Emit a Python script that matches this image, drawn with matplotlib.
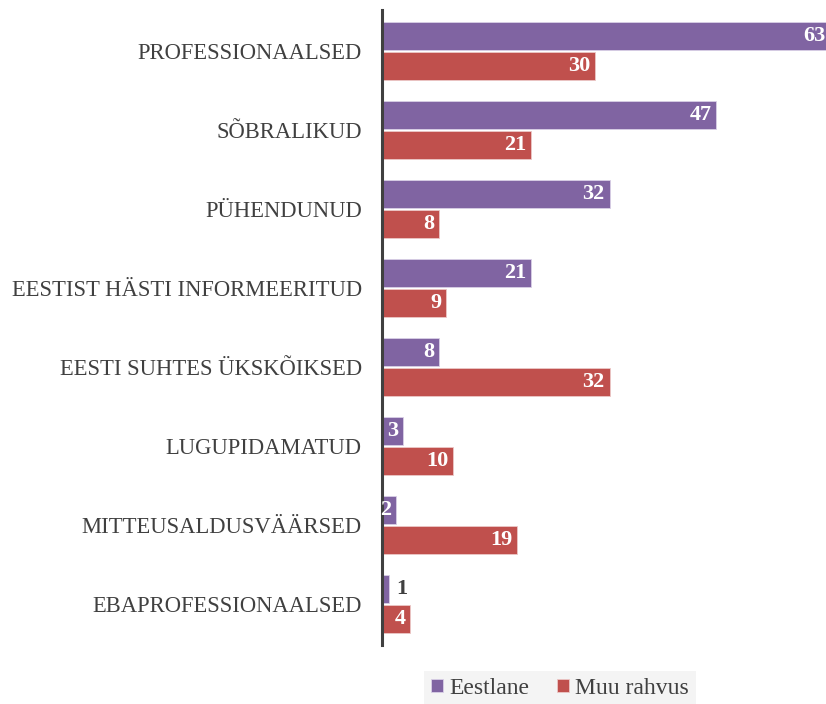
import numpy as np
import matplotlib.pyplot as plt

# survey categories, top to bottom
categories = ['PROFESSIONAALSED', 'SÕBRALIKUD', 'PÜHENDUNUD',
              'EESTIST HÄSTI INFORMEERITUD', 'EESTI SUHTES ÜKSKÕIKSED',
              'LUGUPIDAMATUD', 'MITTEUSALDUSVÄÄRSED', 'EBAPROFESSIONAALSED']
eestlane = [63, 47, 32, 21, 8, 3, 2, 1]
muu_rahvus = [30, 21, 8, 9, 32, 10, 19, 4]
series_names = ['Eestlane', 'Muu rahvus']

purple = '#8064A2'
red = '#C0504D'
grey = '#404040'

plt.rcParams['font.family'] = ['Liberation Serif', 'DejaVu Serif']

fig = plt.figure(figsize=(8.26, 7.04), dpi=100)
ax = fig.add_axes([0.4625, 0.0838, 0.5375, 0.902])

y = np.arange(len(categories))
h = 0.35
gap = 0.018
b1 = ax.barh(y - h / 2 - gap, eestlane, height=h, color=purple,
             edgecolor='#d9cfe6', linewidth=0.6, label=series_names[0])
b2 = ax.barh(y + h / 2 + gap, muu_rahvus, height=h, color=red,
             edgecolor='#ecc8c7', linewidth=0.6, label=series_names[1])

# value labels: inside the bar end, outside when the bar is too short
for bars, vals in ((b1, eestlane), (b2, muu_rahvus)):
    for bar, v in zip(bars, vals):
        cy = bar.get_y() + bar.get_height() / 2
        if v >= 2:
            ax.text(v - 0.7, cy, str(v), ha='right', va='center',
                    color='white', fontsize=16, fontweight='bold')
        else:
            ax.text(v + 1.0, cy, str(v), ha='left', va='center',
                    color=grey, fontsize=16, fontweight='bold')

ax.set_yticks(y)
ax.set_yticklabels(categories, fontsize=16.3, color=grey)
ax.tick_params(axis='y', length=0, pad=14.5)
ax.set_ylim(len(categories) - 0.48, -0.52)
ax.set_xlim(0, 62.4)
ax.set_xticks([])

for side in ('top', 'right', 'bottom'):
    ax.spines[side].set_visible(False)
ax.spines['left'].set_color(grey)
ax.spines['left'].set_linewidth(2.2)

leg = fig.legend(handles=[b1, b2], labels=series_names, loc='center',
                 bbox_to_anchor=(0.678, 0.022), ncol=2, frameon=True,
                 fontsize=17, handlelength=0.5, handleheight=0.5,
                 handletextpad=0.25, columnspacing=1.2, borderpad=0.3,
                 fancybox=False)
leg.get_frame().set_facecolor('#f2f2f2')
leg.get_frame().set_edgecolor('none')
for t in leg.get_texts():
    t.set_color(grey)

fig.savefig('out.png', dpi=100)
